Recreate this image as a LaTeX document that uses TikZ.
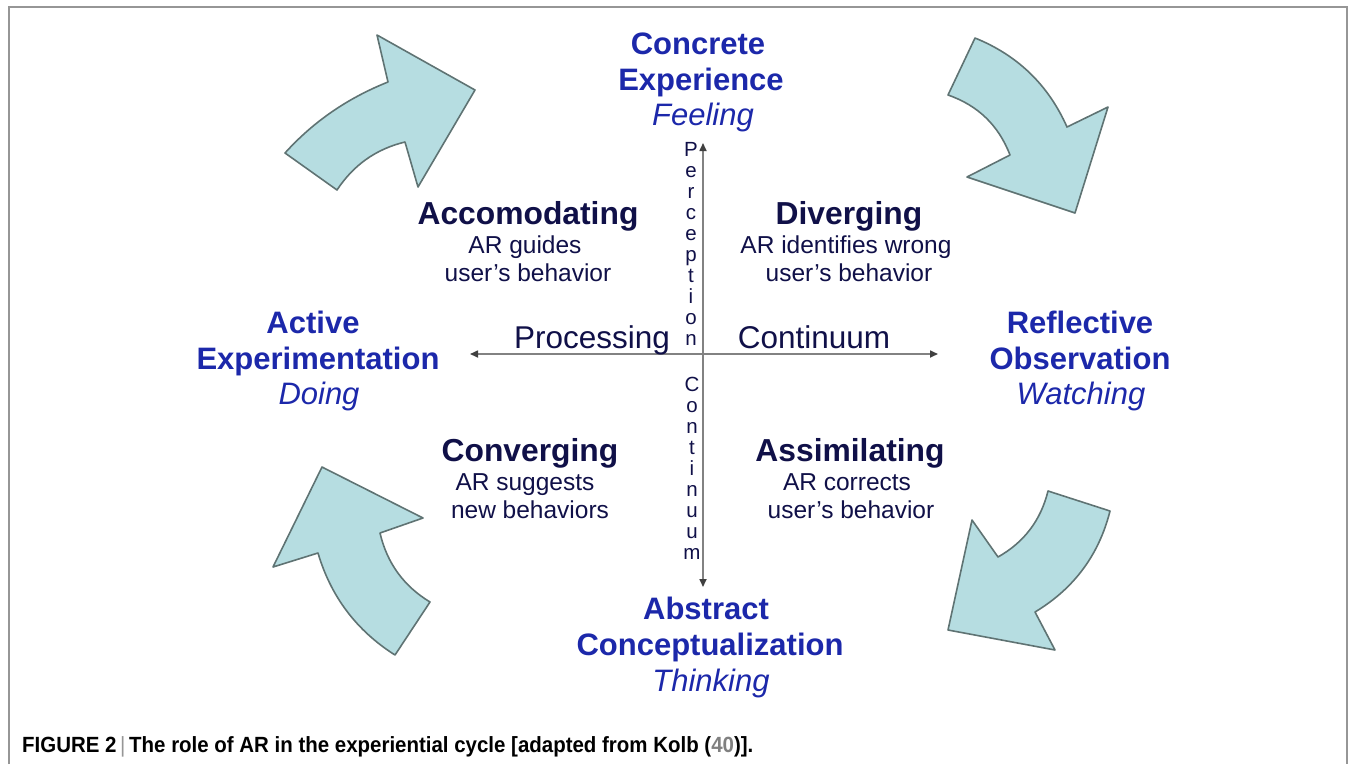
\documentclass[tikz,border=0pt]{standalone}
\usepackage{fontspec}
\setmainfont{Liberation Sans}
\newfontfamily\capfont{Liberation Sans}[FakeStretch=0.93]
\usetikzlibrary{arrows.meta}
\definecolor{cycblue}{RGB}{28,40,170}
\definecolor{quadnavy}{RGB}{16,16,72}
\definecolor{arrfill}{RGB}{182,221,225}
\definecolor{arrline}{RGB}{95,115,115}
\definecolor{axisgray}{RGB}{130,130,130}
\definecolor{framegray}{RGB}{150,150,150}
\begin{document}
\begin{tikzpicture}[x=1pt,y=-1pt,
  stagebold/.style={font=\fontsize{31}{36}\selectfont\bfseries, text=cycblue, inner sep=0, anchor=base},
  stageit/.style={font=\fontsize{31}{36}\selectfont\itshape, text=cycblue, inner sep=0, anchor=base},
  quadbold/.style={font=\fontsize{31.8}{34}\selectfont\bfseries, text=quadnavy, inner sep=0, anchor=base},
  quadtext/.style={font=\fontsize{24.5}{28}\selectfont, text=quadnavy, inner sep=0, anchor=base},
  axislabel/.style={font=\fontsize{31.5}{34}\selectfont, text=quadnavy, inner sep=0, anchor=base},
  vletters/.style={font=\fontsize{20.5}{21}\selectfont, text=quadnavy, inner sep=0, align=center},
  cyclearrow/.style={fill=arrfill, draw=arrline, line width=1.6pt, line join=round},
  axisline/.style={draw=axisgray, line width=1.6pt, -{Triangle[length=8pt,width=7pt,fill=black!75,color=black!75]}},
]
\useasboundingbox (0,0) rectangle (1357,764);
% frame
\draw[framegray, line width=1.5pt] (9,764) -- (9,7) -- (1347,7) -- (1347,764);

% cycle arrows
\path[cyclearrow] (285,153) .. controls (314,121) and (348,98) .. (388,82) -- (377,35) -- (475,90) -- (418,187) -- (405,142) .. controls (376,149) and (353.5,165) .. (337,190) -- cycle;
\path[cyclearrow] (975,38) .. controls (1017.7,55.3) and (1048.3,84.9) .. (1067,127) -- (1108,107) -- (1075,213) -- (967,177) -- (1010,155) .. controls (998.6,125.4) and (978,105.4) .. (948,95) -- cycle;
\path[cyclearrow] (322,467) -- (423,518) -- (380,533) .. controls (387,563) and (403.6,586) .. (430,602) -- (395,655) .. controls (356.5,630.6) and (330.9,596.6) .. (318,553) -- (273,567) -- cycle;
\path[cyclearrow] (1048,491) .. controls (1040.8,520.2) and (1024.2,542.2) .. (998,557) -- (972,520) -- (948,630) -- (1055,650) -- (1035,612) .. controls (1073.9,588.6) and (1098.9,555) .. (1110,511) -- cycle;

% axes
\coordinate (origin) at (703,354);
\coordinate (ytop) at (703,143);
\coordinate (ybot) at (703,587);
\coordinate (xleft) at (470,354);
\coordinate (xright) at (938,354);
\draw[axisline] (origin) -- (ytop);
\draw[axisline] (origin) -- (ybot);
\draw[axisline] (origin) -- (xleft);
\draw[axisline] (origin) -- (xright);

\node[axislabel] (proc) at (592,348) {Processing};
\node[axislabel] (cont) at (814,348) {Continuum};
\node[vletters, anchor=north] (perc) at (691,142) {P\\e\\r\\c\\e\\p\\t\\i\\o\\n};
\node[vletters, anchor=north] (vcont) at (692,377) {C\\o\\n\\t\\i\\n\\u\\u\\m};

% stages
\node[stagebold] (ce1) at (698,54) {Concrete};
\node[stagebold] (ce2) at (701,90) {Experience};
\node[stageit] (ce3) at (703,125) {Feeling};

\node[stagebold] (ro1) at (1080,333) {Reflective};
\node[stagebold] (ro2) at (1080,369) {Observation};
\node[stageit] (ro3) at (1081,404) {Watching};

\node[stagebold] (ae1) at (313,333) {Active};
\node[stagebold] (ae2) at (318,369) {Experimentation};
\node[stageit] (ae3) at (319,404) {Doing};

\node[stagebold] (ac1) at (706,619) {Abstract};
\node[stagebold] (ac2) at (710,655) {Conceptualization};
\node[stageit] (ac3) at (711,691) {Thinking};

% quadrants
\node[quadbold] (acc) at (528,224) {Accomodating};
\node[quadtext] (acc1) at (525,253) {AR guides};
\node[quadtext] (acc2) at (528,281) {user’s behavior};

\node[quadbold] (div) at (849,224) {Diverging};
\node[quadtext] (div1) at (846,253) {AR identifies wrong};
\node[quadtext] (div2) at (849,281) {user’s behavior};

\node[quadbold] (conv) at (530,461) {Converging};
\node[quadtext] (conv1) at (525,490) {AR suggests};
\node[quadtext] (conv2) at (530,518) {new behaviors};

\node[quadbold] (assim) at (850,461) {Assimilating};
\node[quadtext] (assim1) at (847,490) {AR corrects};
\node[quadtext] (assim2) at (851,518) {user’s behavior};

% caption
\node[anchor=base west, inner sep=0, font=\capfont\fontsize{22}{24}\selectfont\bfseries] (caption) at (22,752)
 {FIGURE 2\,{\color{framegray}\mdseries|}\,The role of AR in the experiential cycle [adapted from Kolb ({\color{gray}40})].};
\end{tikzpicture}
\end{document}
